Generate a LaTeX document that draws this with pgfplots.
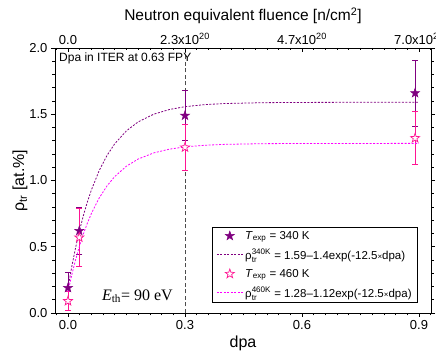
\documentclass[border=0pt]{standalone}
\usepackage{pgfplots}
\pgfplotsset{compat=1.18}
\usepackage{amsmath}
\usepackage{fontspec}
\setmainfont{Liberation Sans}
\newfontfamily\timesf{Liberation Serif}
\definecolor{cA}{HTML}{800080}
\definecolor{cB}{HTML}{FF1493}
\definecolor{cBl}{HTML}{FF00FF}
\pgfdeclareplotmark{pstar}{%
  \pgfpathmoveto{\pgfpointpolar{90}{\pgfplotmarksize}}%
  \pgfpathlineto{\pgfpointpolar{126}{0.4\pgfplotmarksize}}%
  \pgfpathlineto{\pgfpointpolar{162}{\pgfplotmarksize}}%
  \pgfpathlineto{\pgfpointpolar{198}{0.4\pgfplotmarksize}}%
  \pgfpathlineto{\pgfpointpolar{234}{\pgfplotmarksize}}%
  \pgfpathlineto{\pgfpointpolar{270}{0.4\pgfplotmarksize}}%
  \pgfpathlineto{\pgfpointpolar{306}{\pgfplotmarksize}}%
  \pgfpathlineto{\pgfpointpolar{342}{0.4\pgfplotmarksize}}%
  \pgfpathlineto{\pgfpointpolar{18}{\pgfplotmarksize}}%
  \pgfpathlineto{\pgfpointpolar{54}{0.4\pgfplotmarksize}}%
  \pgfpathclose
  \pgfusepathqfillstroke}
\begin{document}
\begin{tikzpicture}
\begin{axis}[name=main,
  scale only axis, width=376pt, height=265pt,
  xmin=-0.0333, xmax=0.9308, ymin=0, ymax=2,
  xtick={0,0.3,0.6,0.9}, xticklabels={0.0,0.3,0.6,0.9},
  ytick={0,0.5,1,1.5,2}, yticklabels={0.0,0.5,1.0,1.5,2.0},
  minor xtick={-0.03,0.03,0.06,0.09,0.12,0.15,0.18,0.21,0.24,0.27,0.33,0.36,0.39,0.42,0.45,0.48,0.51,0.54,0.57,0.63,0.66,0.69,0.72,0.75,0.78,0.81,0.84,0.87,0.93},
  minor y tick num=4,
  tick align=outside, xtick pos=bottom, ytick pos=both, yticklabel pos=left,
  major tick length=4pt, minor tick length=2.5pt,
  tick style={black, line width=0.6pt},
  axis line style={line width=0.8pt},
  tick label style={font=\fontsize{13}{15}\selectfont},
  xlabel={dpa}, ylabel={\text{ρ}$_{\text{tr}}$ [at.\%]},
  label style={font=\fontsize{16}{18}\selectfont},
  xlabel style={at={(axis description cs:0.5,-0.113)}, anchor=center},
  ylabel style={at={(axis description cs:-0.093,0.5)}, anchor=center},
  legend style={at={(rel axis cs:0.4176,0.0377)}, anchor=south west,
    font=\fontsize{11.5}{13}\selectfont, draw=black, line width=0.8pt,
    inner xsep=4pt, inner ysep=2pt, row sep=4.5pt},
  legend cell align=left,
  legend image code/.code={\draw[mark repeat=2,mark phase=2,#1] plot coordinates {(0pt,0pt) (13pt,0pt) (26pt,0pt)};},
]
% vertical line at 0.3 dpa
\addplot[black!70, dash pattern=on 4pt off 2.5pt, line width=0.8pt, forget plot] coordinates {(0.3,0) (0.3,2)};
\node[anchor=north west, font=\fontsize{12}{14}\selectfont, inner sep=1pt] at (rel axis cs:0.008,0.985) {Dpa in ITER at 0.63 FPY};
\node[font=\timesf\fontsize{16}{18}\selectfont] at (axis cs:0.178,0.128) {\textit{E}$_{\text{th}}$= 90 eV};
% 340 K
\addplot[only marks, mark=pstar, mark size=4.8pt, color=cA, mark options={fill=cA, line width=0.5pt},
  error bars/.cd, y dir=both, y explicit,
  error bar style={color=cA, line width=0.7pt},
  error mark options={color=cA, mark size=3pt, line width=0.7pt, rotate=90}]
  coordinates {
  (0,0.19) +- (0,0.12)
  (0.029,0.62) +- (0,0.18)
  (0.3,1.49) +- (0,0.19)
  (0.89,1.66) +- (0,0.25)
  };
\addlegendentry{\textit{T}$_{\text{exp}}$ = 340 K}
\addplot[cA, line width=0.8pt, dash pattern=on 2pt off 1.5pt] coordinates {
  (0,0.19) (0.01,0.3545) (0.02,0.4997) (0.03,0.6278) (0.04,0.7409) (0.05,0.8406)
  (0.06,0.9286) (0.08,1.0749) (0.10,1.1889) (0.12,1.2777) (0.15,1.3752) (0.18,1.4424)
  (0.22,1.5005) (0.26,1.5357) (0.30,1.5571) (0.35,1.5724) (0.40,1.5806) (0.50,1.5873)
  (0.60,1.5892) (0.70,1.5899) (0.90,1.59)};
\addlegendentry{$\text{ρ}^{\text{340K}}_{\text{tr}}$ = 1.59–1.4exp(-12.5{\footnotesize×}dpa)}
% 460 K
\addplot[only marks, mark=pstar, mark size=4.8pt, color=cB, mark options={fill=white, line width=0.7pt},
  error bars/.cd, y dir=both, y explicit,
  error bar style={color=cB, line width=0.7pt},
  error mark options={color=cB, mark size=3pt, line width=0.7pt, rotate=90}]
  coordinates {
  (0,0.09) +- (0,0.07)
  (0.029,0.57) +- (0,0.22)
  (0.3,1.25) +- (0,0.17)
  (0.89,1.32) +- (0,0.20)
  };
\addlegendentry{\textit{T}$_{\text{exp}}$ = 460 K}
\addplot[cBl, line width=0.8pt, dash pattern=on 2pt off 1.5pt] coordinates {
  (0,0.16) (0.01,0.2916) (0.02,0.4077) (0.03,0.5102) (0.04,0.6007) (0.05,0.6805)
  (0.06,0.7509) (0.08,0.8680) (0.10,0.9591) (0.12,1.0301) (0.15,1.1082) (0.18,1.1620)
  (0.22,1.2084) (0.26,1.2365) (0.30,1.2537) (0.35,1.2659) (0.40,1.2725) (0.50,1.2779)
  (0.60,1.2794) (0.70,1.2799) (0.90,1.28)};
\addlegendentry{$\text{ρ}^{\text{460K}}_{\text{tr}}$ = 1.28–1.12exp(-12.5{\footnotesize×}dpa)}
\end{axis}
\begin{axis}[
  scale only axis, width=376pt, height=265pt,
  xmin=-0.0333, xmax=0.9308, ymin=0, ymax=2,
  axis x line*=top, axis y line=none,
  xtick={0,0.3,0.6,0.9},
  xticklabels={0.0,2.3x10\textsuperscript{20},4.7x10\textsuperscript{20},7.0x10\textsuperscript{20}},
  minor xtick={-0.03,0.03,0.06,0.09,0.12,0.15,0.18,0.21,0.24,0.27,0.33,0.36,0.39,0.42,0.45,0.48,0.51,0.54,0.57,0.63,0.66,0.69,0.72,0.75,0.78,0.81,0.84,0.87,0.93},
  tick align=inside,
  major tick length=4pt, minor tick length=2.5pt,
  tick style={black, line width=0.6pt},
  axis line style={line width=0.8pt},
  tick label style={font=\fontsize{13}{15}\selectfont},
  xlabel={Neutron equivalent fluence [n/cm\textsuperscript{2}]},
  xlabel style={font=\fontsize{15.5}{18}\selectfont, at={(axis description cs:0.5,1.121)}, anchor=center},
]
\addplot[draw=none] coordinates {(0,0) (0.9,2)};
\end{axis}
\pgfresetboundingbox
\path[use as bounding box] ([xshift=-55pt,yshift=-39pt]main.south west) rectangle ([xshift=5pt,yshift=48pt]main.north east);
\end{tikzpicture}
\end{document}
